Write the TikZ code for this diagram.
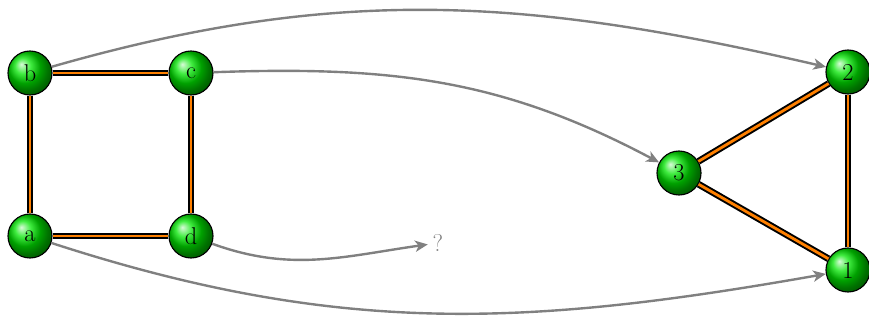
\documentclass[tikz,border=0pt]{standalone}
\usepackage{tikz}
\usetikzlibrary{arrows.meta, shadings}

\begin{document}
\begin{tikzpicture}[x=0.025cm, y=-0.025cm, >={Stealth[length=9pt, width=8pt, inset=2.5pt]},
        vertex/.style={circle, draw=black, thick, shading=ball, ball color=green!90!black,
            minimum size=1.1cm, inner sep=0pt, font=\LARGE},
        link/.style={double=orange, double distance=2pt, line width=1.4pt},
        mapto/.style={->, gray, line width=1.7pt}]
        \useasboundingbox (0,0) rectangle (869,322);

        % --- Graphe de gauche (carre) ---
        \node[vertex] (b) at (30,73) {b};
        \node[vertex] (c) at (191,73) {c};
        \node[vertex] (a) at (30,236) {a};
        \node[vertex] (d) at (191,236) {d};

        \draw[link] (b) -- (c);
        \draw[link] (c) -- (d);
        \draw[link] (d) -- (a);
        \draw[link] (a) -- (b);

        % --- Graphe de droite (triangle) ---
        \node[vertex] (n2) at (848,72) {2};
        \node[vertex] (n3) at (679,173) {3};
        \node[vertex] (n1) at (848,270) {1};

        \draw[link] (n3) -- (n2);
        \draw[link] (n2) -- (n1);
        \draw[link] (n1) -- (n3);

        % Sommet sans image
        \node[font=\LARGE, gray] (q) at (438,243) {?};

        % --- Correspondances ---
        \draw[mapto] (b) to[out=16, in=167] (n2);
        \draw[mapto] (c) to[out=2, in=152] (n3);
        \draw[mapto] (a) to[out=-18, in=190] (n1);
        \draw[mapto] (d) to[out=-20, in=188] (q);
    \end{tikzpicture}
\end{document}
